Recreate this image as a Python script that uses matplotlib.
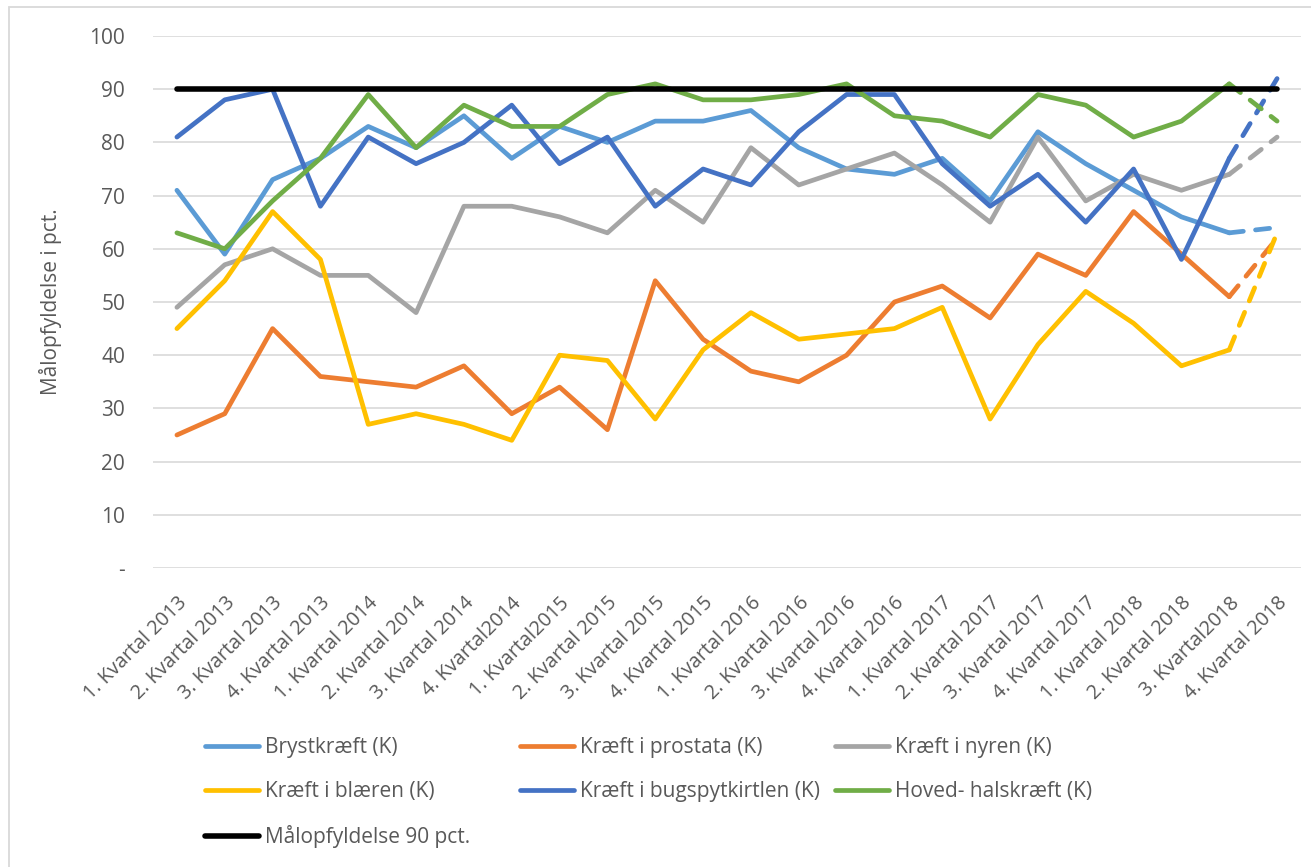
import matplotlib
matplotlib.use("Agg")
import matplotlib.pyplot as plt
from matplotlib.patches import Rectangle
from matplotlib.transforms import ScaledTranslation

plt.rcParams['font.family'] = ['Open Sans', 'DejaVu Sans']

# ---------------------------------------------------------
# data
# ---------------------------------------------------------
quarters = [
    "1. Kvartal 2013", "2. Kvartal 2013", "3. Kvartal 2013", "4. Kvartal 2013",
    "1. Kvartal 2014", "2. Kvartal 2014", "3. Kvartal 2014", "4. Kvartal2014",
    "1. Kvartal2015", "2. Kvartal 2015", "3. Kvartal 2015", "4. Kvartal 2015",
    "1. Kvartal 2016", "2. Kvartal 2016", "3. Kvartal 2016", "4. Kvartal 2016",
    "1. Kvartal 2017", "2. Kvartal 2017", "3. Kvartal 2017", "4. Kvartal 2017",
    "1. Kvartal 2018", "2. Kvartal 2018", "3. Kvartal2018", "4. Kvartal 2018",
]

bryst = [71, 59, 73, 77, 83, 79, 85, 77, 83, 80, 84, 84,
         86, 79, 75, 74, 77, 69, 82, 76, 71, 66, 63, 64]
prostata = [25, 29, 45, 36, 35, 34, 38, 29, 34, 26, 54, 43,
            37, 35, 40, 50, 53, 47, 59, 55, 67, 59, 51, 62]
nyren = [49, 57, 60, 55, 55, 48, 68, 68, 66, 63, 71, 65,
         79, 72, 75, 78, 72, 65, 81, 69, 74, 71, 74, 81]
blaeren = [45, 54, 67, 58, 27, 29, 27, 24, 40, 39, 28, 41,
           48, 43, 44, 45, 49, 28, 42, 52, 46, 38, 41, 63]
bugspyt = [81, 88, 90, 68, 81, 76, 80, 87, 76, 81, 68, 75,
           72, 82, 89, 89, 76, 68, 74, 65, 75, 58, 77, 92]
hovedhals = [63, 60, 69, 77, 89, 79, 87, 83, 83, 89, 91, 88,
             88, 89, 91, 85, 84, 81, 89, 87, 81, 84, 91, 84]
maal = [90] * 24

series = [
    ("Brystkræft (K)", bryst, "#5B9BD5"),
    ("Kræft i prostata (K)", prostata, "#ED7D31"),
    ("Kræft i nyren (K)", nyren, "#A5A5A5"),
    ("Kræft i blæren (K)", blaeren, "#FFC000"),
    ("Kræft i bugspytkirtlen (K)", bugspyt, "#4472C4"),
    ("Hoved- halskræft (K)", hovedhals, "#70AD47"),
]

yticks = list(range(0, 101, 10))
ytick_labels = ["-"] + [str(v) for v in yticks[1:]]

TXT = "#595959"
GRID = "#D9D9D9"
LW = 3.4

# ---------------------------------------------------------
# figure
# ---------------------------------------------------------
fig = plt.figure(figsize=(13.11, 8.67), dpi=100)
ax = fig.add_axes([153 / 1311, 1 - 568 / 867, 1148 / 1311, 532 / 867])

x = list(range(len(quarters)))
handles = {}
for name, vals, col in series:
    # solid up to 3. kvartal 2018, dashed last segment
    ln, = ax.plot(x[:23], vals[:23], color=col, lw=LW,
                  solid_capstyle='round', solid_joinstyle='round', zorder=3)
    ax.plot(x[22:], vals[22:], color=col, lw=LW, linestyle=(0, (3, 2.6)),
            dash_capstyle='round', zorder=3)
    handles[name] = ln

ln, = ax.plot(x, maal, color="black", lw=LW + 0.6,
              solid_capstyle='round', zorder=4)
handles["Målopfyldelse 90 pct."] = ln

ax.set_xlim(-0.5, 23.5)
ax.set_ylim(0, 100)
ax.set_yticks(yticks)
ax.set_yticklabels(ytick_labels)
ax.set_xticks(x)
ax.set_xticklabels(quarters, rotation=45, ha='right', rotation_mode='anchor')
shift = ScaledTranslation(3 / 100, 0, fig.dpi_scale_trans)
for lab in ax.get_xticklabels():
    lab.set_transform(lab.get_transform() + shift)

ax.grid(axis='y', color=GRID, lw=1.2, zorder=0)
ax.set_axisbelow(True)
for s in ax.spines.values():
    s.set_visible(False)
ax.tick_params(axis='y', length=0, pad=20, labelsize=15, labelcolor=TXT)
ax.tick_params(axis='x', length=0, pad=18, labelsize=14.3, labelcolor=TXT)

ax.set_ylabel("Målopfyldelse i pct.", fontsize=15, color=TXT)
ax.yaxis.set_label_coords(-0.079, 0.5)

# ---------------------------------------------------------
# legend: three fixed-width columns like Excel
# ---------------------------------------------------------
columns = [
    ["Brystkræft (K)", "Kræft i blæren (K)", "Målopfyldelse 90 pct."],
    ["Kræft i prostata (K)", "Kræft i bugspytkirtlen (K)"],
    ["Kræft i nyren (K)", "Hoved- halskræft (K)"],
]
col_x = [205, 520, 835]
for names, cx in zip(columns, col_x):
    fig.legend([handles[n] for n in names], names,
               loc='upper left', bbox_to_anchor=(cx / 1311, 1 - 737 / 867),
               frameon=False, fontsize=15, labelcolor=TXT,
               handlelength=2.6, handletextpad=0.3, labelspacing=1.1,
               borderpad=0, borderaxespad=0)

# chart area border
fig.patches.append(Rectangle((9 / 1311, -0.01), 1.02, 1 - 7 / 867 + 0.01,
                             transform=fig.transFigure, fill=False,
                             edgecolor=GRID, lw=1.3))

fig.savefig("out.png", dpi=100)
